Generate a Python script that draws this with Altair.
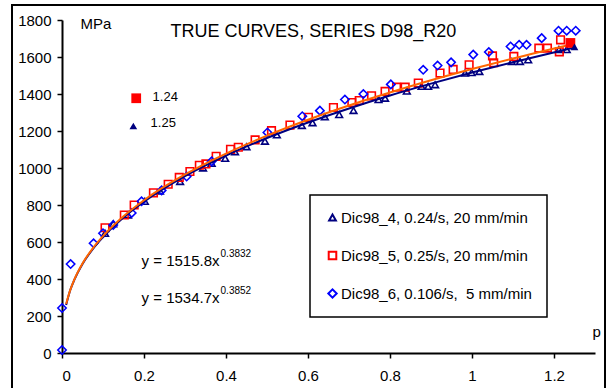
import altair as alt
import pandas as pd

FONT = "Liberation Sans"

S4 = "Dic98_4, 0.24/s, 20 mm/min"
S5 = "Dic98_5, 0.25/s, 20 mm/min"
S6 = "Dic98_6, 0.106/s,\u00a0 5 mm/min"

# Dic98_4 (navy triangles)
tri_x = [0.105, 0.125, 0.161, 0.202, 0.239, 0.288, 0.344, 0.365, 0.398, 0.422, 0.450, 0.495,
         0.524, 0.585, 0.611, 0.641, 0.676, 0.711, 0.772, 0.788, 0.841, 0.877, 0.893, 0.910,
         0.983, 0.999, 1.018, 1.097, 1.117, 1.137, 1.212, 1.231]
tri_y = [647, 698, 746, 820, 876, 927, 1000, 1025, 1052, 1088, 1115, 1145,
         1179, 1230, 1245, 1277, 1289, 1311, 1370, 1377, 1416, 1441, 1441, 1450,
         1513, 1516, 1522, 1576, 1576, 1585, 1640, 1640]

# Dic98_5 (red squares)
sq_x = [0.105, 0.152, 0.176, 0.223, 0.259, 0.286, 0.312, 0.335, 0.351, 0.376, 0.411, 0.430,
        0.471, 0.511, 0.556, 0.601, 0.662, 0.707, 0.725, 0.755, 0.788, 0.816, 0.837, 0.869,
        0.922, 0.954, 0.993, 1.050, 1.053, 1.102, 1.163, 1.184, 1.216, 1.213]
sq_y = [677, 746, 800, 866, 912, 949, 981, 1015, 1022, 1063, 1101, 1112,
        1152, 1202, 1232, 1274, 1327, 1354, 1365, 1390, 1414, 1437, 1437, 1459,
        1513, 1533, 1558, 1606, 1569, 1603, 1648, 1648, 1693, 1628]

# Dic98_6 (blue diamonds)
dia_x = [0.0, 0.0, 0.021, 0.077, 0.100, 0.125, 0.170, 0.194, 0.243, 0.304, 0.365, 0.501,
         0.586, 0.629, 0.690, 0.735, 0.802, 0.881, 0.916, 0.949, 1.003, 1.041, 1.094, 1.115,
         1.133, 1.170, 1.211, 1.231, 1.253]
dia_y = [16, 243, 481, 593, 647, 692, 757, 820, 879, 954, 1036, 1192,
         1280, 1310, 1370, 1400, 1452, 1531, 1554, 1571, 1613, 1627, 1657, 1666,
         1666, 1702, 1742, 1742, 1742]

# trend lines
fit_x = [0.01, 0.02, 0.03, 0.05, 0.075, 0.1, 0.15, 0.2, 0.3, 0.4, 0.5, 0.6, 0.7, 0.8, 0.9, 1.0, 1.1, 1.25]
fit_navy = [259, 339, 395, 481, 562, 627, 733, 818, 956, 1067, 1162, 1246, 1322, 1392, 1456, 1516, 1572, 1651]
fit_orange = [265, 340, 397, 484, 566, 632, 739, 826, 965, 1078, 1175, 1261, 1338, 1408, 1474, 1535, 1592, 1672]

# final (fracture) points
end_sq = (1.24, 1676)
end_tri = (1.25, 1655)

series = [S4, S5, S6]
colors = ["#000080", "#ff0000", "#0000ff"]
shapes = ["triangle-up", "square", "diamond"]
sizes = [45, 70, 35]

pts = pd.DataFrame(
    [{"x": a, "y": b, "series": S4} for a, b in zip(tri_x, tri_y)]
    + [{"x": a, "y": b, "series": S5} for a, b in zip(sq_x, sq_y)]
    + [{"x": a, "y": b, "series": S6} for a, b in zip(dia_x, dia_y)]
)
navy_df = pd.DataFrame({"x": fit_x, "y": fit_navy})
orange_df = pd.DataFrame({"x": fit_x, "y": fit_orange})

xscale = alt.Scale(domain=[0, 1.3], nice=False, zero=False)
yscale = alt.Scale(domain=[0, 1800], nice=False)
xaxis = alt.Axis(values=[0, 0.2, 0.4, 0.6, 0.8, 1.0, 1.2], format="~g", title="p",
                 titleX=530, titleY=-17, titleAlign="left", titleBaseline="alphabetic",
                 titleFontWeight="normal", titleFontSize=15, titleFont=FONT,
                 labelPadding=10, tickSize=5)
yaxis = alt.Axis(values=list(range(0, 1801, 200)), format="d", title="MPa",
                 titleAngle=0, titleX=18, titleY=3, titleAlign="left", titleBaseline="middle",
                 titleFontWeight="normal", titleFontSize=15, titleFont=FONT,
                 labelPadding=6, tickSize=5)

X = alt.X("x:Q", scale=xscale, axis=xaxis)
Y = alt.Y("y:Q", scale=yscale, axis=yaxis)

legend = alt.Legend(orient="none", legendX=248, legendY=175, title=None,
                    strokeColor="black", fillColor="white", padding=15, rowPadding=21,
                    labelFontSize=15, labelFont=FONT, labelLimit=400, symbolSize=25,
                    symbolStrokeWidth=2, symbolOffset=0, labelOffset=1)

frame = alt.Chart(pd.DataFrame({"x": [0]})).mark_rect(
    fillOpacity=0, stroke="black", strokeWidth=2
).encode(x=alt.value(-50), x2=alt.value(543), y=alt.value(-15), y2=alt.value(420))

scatter = alt.Chart(pts).mark_point(filled=False, strokeWidth=1.6, opacity=1).encode(
    x=X, y=Y,
    color=alt.Color("series:N", scale=alt.Scale(domain=series, range=colors), legend=legend),
    shape=alt.Shape("series:N", scale=alt.Scale(domain=series, range=shapes), legend=legend),
    size=alt.Size("series:N", scale=alt.Scale(domain=series, range=sizes), legend=None),
)

navy_line = alt.Chart(navy_df).mark_line(color="#000080", strokeWidth=2, interpolate="monotone").encode(x=X, y=Y)
orange_line = alt.Chart(orange_df).mark_line(color="#ff6600", strokeWidth=2, interpolate="monotone").encode(x=X, y=Y)

end_sq_pt = alt.Chart(pd.DataFrame({"x": [end_sq[0], 0.181], "y": [end_sq[1], 1377]})).mark_point(
    shape="square", filled=True, color="#ff0000", size=95, opacity=1).encode(x=X, y=Y)
end_tri_pt = alt.Chart(pd.DataFrame({"x": [end_tri[0], 0.174], "y": [end_tri[1], 1227]})).mark_point(
    shape="triangle-up", filled=True, color="#000080", size=60, opacity=1).encode(x=X, y=Y)

ann_df = pd.DataFrame({"x": [0.221, 0.216], "y": [1385, 1245], "t": ["1.24", "1.25"]})
ann = alt.Chart(ann_df).mark_text(align="left", baseline="middle", fontSize=13, font=FONT, color="black").encode(
    x=X, y=Y, text="t:N")

eq_df = pd.DataFrame({"x": [0.194, 0.194], "y": [498, 300],
                      "t": ["y = 1515.8x", "y = 1534.7x"], "e": ["0.3832", "0.3852"]})
eq = alt.Chart(eq_df).mark_text(align="left", baseline="middle", fontSize=15, font=FONT, color="black").encode(
    x=X, y=Y, text="t:N")
eq_sup = alt.Chart(eq_df).mark_text(align="left", baseline="middle", fontSize=10, font=FONT, color="black",
                                    dx=79, dy=-7).encode(x=X, y=Y, text="e:N")

title_df = pd.DataFrame({"x": [0.613], "y": [1737], "t": ["TRUE CURVES, SERIES D98_R20"]})
title = alt.Chart(title_df).mark_text(align="center", baseline="middle", fontSize=18, font=FONT, color="black").encode(
    x=X, y=Y, text="t:N")

chart = alt.layer(frame, scatter, navy_line, orange_line, end_sq_pt, end_tri_pt, ann, eq, eq_sup, title).properties(
    width=533, height=333,
    autosize=alt.AutoSizeParams(type="none"),
    padding={"left": 62, "top": 20, "right": 11, "bottom": 35},
    background="white",
).configure_view(stroke=None).configure_axis(
    grid=False, domainColor="black", domainWidth=2, tickColor="black", tickWidth=1.5,
    labelColor="black", labelFont=FONT, labelFontSize=15, titleColor="black",
).configure_legend(strokeWidth=1.5)

chart.save("out.html", embed_options={"renderer": "svg", "actions": False})
